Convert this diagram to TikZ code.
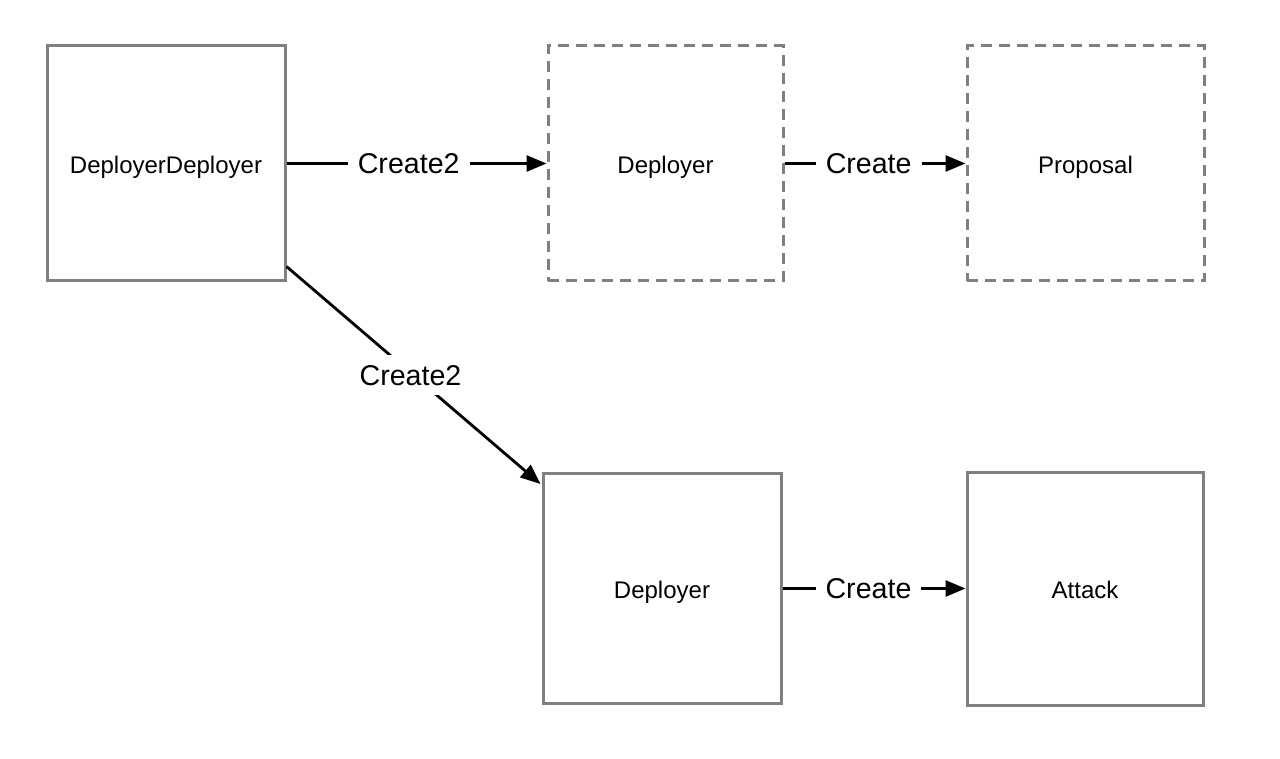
\documentclass[tikz,border=0pt]{standalone}
\usepackage{fontspec}
\setmainfont{Liberation Sans}
\usetikzlibrary{arrows.meta,calc}
\definecolor{boxgray}{RGB}{128,128,128}
\tikzset{
  solidbox/.style={draw=boxgray, line width=1.5pt, minimum width=#1, minimum height=117.5pt, inner sep=0pt, text depth=0pt, font=\fontsize{12}{14}\selectfont},
  dashbox/.style={solidbox=#1, dash pattern=on 5.5pt off 3.5pt},
  conn/.style={draw=black, line width=1.4pt, -{Triangle[length=10pt,width=8pt]}},
  lab/.style={fill=white, inner xsep=5pt, inner ysep=2pt, font=\fontsize{14.3}{16}\selectfont}
}
\begin{document}
\begin{tikzpicture}[x=0.5pt,y=-0.5pt]
\useasboundingbox (0,0) rectangle (1280,759);
\node[solidbox=119pt] (dd) at (166,163.5) {\raisebox{-1pt}{DeployerDeployer}};
\node[dashbox=117.5pt] (dp1) at (665.5,163.5) {\raisebox{-1pt}{Deployer}};
\node[dashbox=118.5pt] (prop) at (1085.5,163.5) {\raisebox{-1pt}{Proposal}};
\node[solidbox=119pt, minimum height=115pt] (dp2) at (662,588.5) {\raisebox{-1pt}{Deployer}};
\node[solidbox=118pt, minimum height=116.5pt] (att) at (1085,588.5) {\raisebox{-1pt}{Attack}};
\draw[conn] (dd.east) -- node[lab, pos=0.47] {Create2} (dp1.west);
\draw[conn] (dp1.east) -- node[lab, pos=0.465] {Create} (prop.west);
\draw[conn] (dp2.east) -- node[lab, pos=0.47] {Create} (att.west);
\coordinate (s) at ($(dd.south east)+(0,-16)$);
\coordinate (t) at ($(dp2.north west)+(-1,12)$);
\draw[conn] (s) -- node[lab, inner ysep=5pt, pos=0.5, xshift=-1.5pt] {Create2} (t);
\end{tikzpicture}
\end{document}
